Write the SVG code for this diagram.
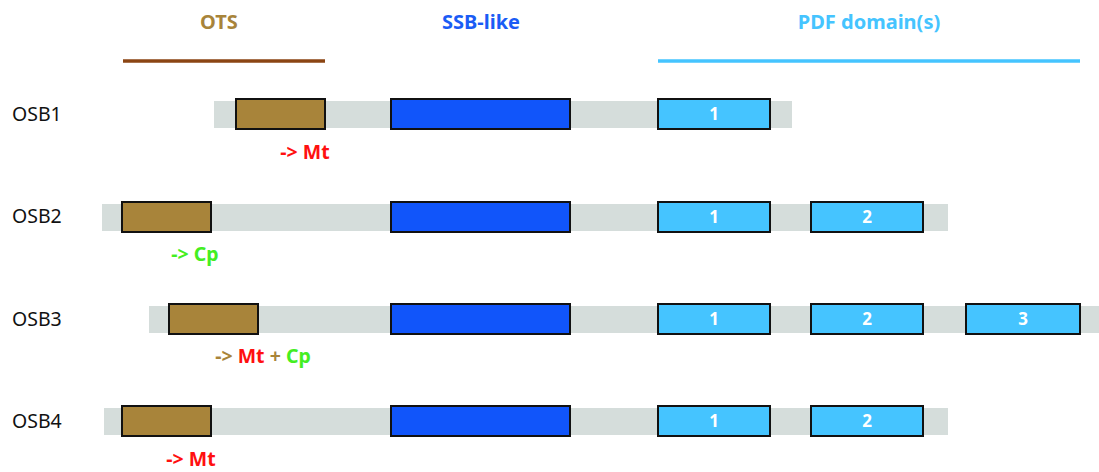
<svg xmlns="http://www.w3.org/2000/svg" width="1099" height="472" viewBox="0 0 1099 472">
<style>
text{font-family:"Source Sans Pro","Noto Sans","Liberation Sans",sans-serif}
.hdr{font-size:20px;font-weight:bold;text-anchor:middle}
.lbl{font-size:19.5px;fill:#111}
.bar{fill:#D5DDDB}
.ots{fill:#A8843A;stroke:#111;stroke-width:2}
.ssb{fill:#1155FA;stroke:#111;stroke-width:2}
.pdf{fill:#45C4FF;stroke:#111;stroke-width:2}
.num{font-size:17px;font-weight:bold;fill:#fff;text-anchor:middle}
.note{font-size:19.5px;font-weight:bold;text-anchor:middle}
.r{fill:#FF1010}.g{fill:#44EE22}.b{fill:#A8843A}
</style>
<g id="header">
<text class="hdr" x="219" y="29" fill="#A8843A">OTS</text>
<line x1="123" y1="61" x2="325" y2="61" stroke="#8B4513" stroke-width="3.5"/>
<text class="hdr" x="481" y="29" fill="#1A5CF5">SSB-like</text>
<text class="hdr" x="869" y="29" fill="#45C4FF">PDF domain(s)</text>
<line x1="658" y1="61" x2="1080" y2="61" stroke="#45C4FF" stroke-width="3.5"/>
</g>
<g id="osb1">
<text class="lbl" x="12" y="121">OSB1</text>
<rect class="bar" x="214" y="101" width="578" height="27"/>
<rect class="ots" x="236" y="99" width="89" height="30"/>
<rect class="ssb" x="391" y="99" width="179" height="30"/>
<rect class="pdf" x="658" y="99" width="112" height="30"/>
<text class="num" x="714" y="120">1</text>
<text class="note r" x="305" y="159">-&gt; Mt</text>
</g>
<g id="osb2">
<text class="lbl" x="12" y="223">OSB2</text>
<rect class="bar" x="102" y="204" width="846" height="27"/>
<rect class="ots" x="122" y="202" width="89" height="30"/>
<rect class="ssb" x="391" y="202" width="179" height="30"/>
<rect class="pdf" x="658" y="202" width="112" height="30"/>
<text class="num" x="714" y="223">1</text>
<rect class="pdf" x="811" y="202" width="112" height="30"/>
<text class="num" x="867" y="223">2</text>
<text class="note g" x="195" y="261">-&gt; Cp</text>
</g>
<g id="osb3">
<text class="lbl" x="12" y="326">OSB3</text>
<rect class="bar" x="149" y="306" width="950" height="27"/>
<rect class="ots" x="169" y="304" width="89" height="30"/>
<rect class="ssb" x="391" y="304" width="179" height="30"/>
<rect class="pdf" x="658" y="304" width="112" height="30"/>
<text class="num" x="714" y="325">1</text>
<rect class="pdf" x="811" y="304" width="112" height="30"/>
<text class="num" x="867" y="325">2</text>
<rect class="pdf" x="966" y="304" width="114" height="30"/>
<text class="num" x="1023" y="325">3</text>
<text class="note" x="263" y="363"><tspan class="b">-&gt; </tspan><tspan class="r">Mt</tspan><tspan class="b"> + </tspan><tspan class="g">Cp</tspan></text>
</g>
<g id="osb4">
<text class="lbl" x="12" y="428">OSB4</text>
<rect class="bar" x="104" y="408" width="844" height="27"/>
<rect class="ots" x="122" y="406" width="89" height="30"/>
<rect class="ssb" x="391" y="406" width="179" height="30"/>
<rect class="pdf" x="658" y="406" width="112" height="30"/>
<text class="num" x="714" y="427">1</text>
<rect class="pdf" x="811" y="406" width="112" height="30"/>
<text class="num" x="867" y="427">2</text>
<text class="note r" x="191" y="466">-&gt; Mt</text>
</g>
<g id="connectors"></g>
</svg>
